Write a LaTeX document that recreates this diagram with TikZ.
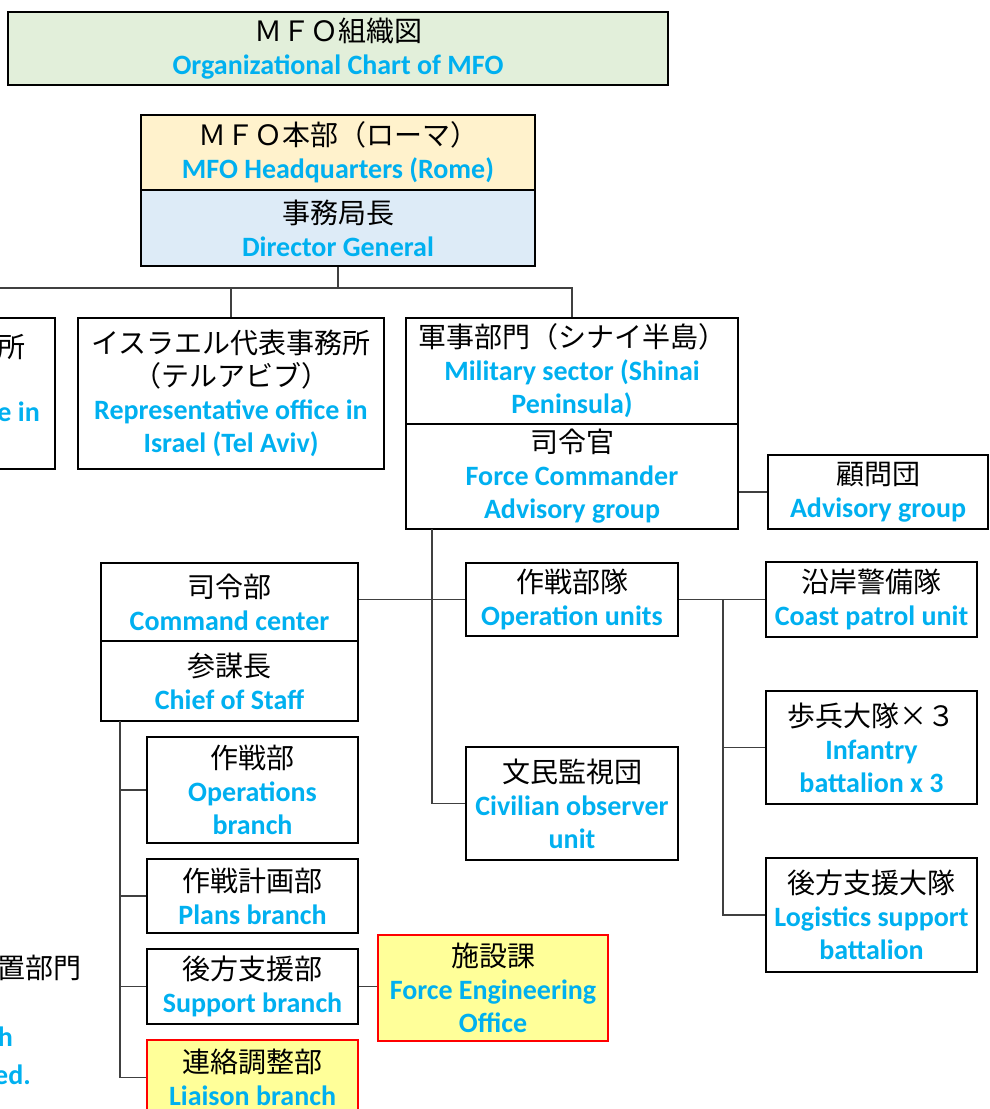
\documentclass[tikz,border=0pt]{standalone}
\usepackage{fontspec}
\setmainfont{Carlito}
\newfontfamily\jpfont{Noto Sans CJK JP}
\usepackage{xcolor}
\usepackage{tikz}

\definecolor{enblue}{HTML}{00B0F0}
\definecolor{titlegreen}{HTML}{E2EFDA}
\definecolor{hqcream}{HTML}{FFF2CC}
\definecolor{dgblue}{HTML}{DDEBF7}
\definecolor{hiyellow}{HTML}{FFFF99}
\definecolor{linegray}{HTML}{404040}

\newcommand{\jp}[1]{{\jpfont\fontsize{28}{33}\selectfont #1}}
\newcommand{\en}[1]{{\color{enblue}\bfseries\fontsize{28}{33}\selectfont #1}}

\tikzset{
    unitbox/.style={draw=black, line width=2.2pt, fill=white, align=center, inner sep=0pt,
        font=\fontsize{28}{33}\selectfont},
    hilitebox/.style={unitbox, draw=red, fill=hiyellow},
    fragment/.style={anchor=east, inner sep=0pt, font=\fontsize{28}{33}\selectfont},
    conn/.style={draw=linegray, line width=1.3pt},
}

\begin{document}
\begin{tikzpicture}[x=1pt, y=-1pt]
    \useasboundingbox (0,0) rectangle (990,1109);
    \clip (0,0) rectangle (990,1109);

    % Title and headquarters
    \node[unitbox, fill=titlegreen, minimum width=660, minimum height=73] (title) at (338,48.5)
        {\jp{ＭＦＯ組織図}\\\en{Organizational Chart of MFO}};
    \node[unitbox, fill=hqcream, minimum width=394, minimum height=75] (hq) at (338,152.5)
        {\jp{ＭＦＯ本部（ローマ）}\\\en{MFO Headquarters (Rome)}};
    \node[unitbox, fill=dgblue, minimum width=394, minimum height=76] (dg) at (338,228)
        {\jp{事務局長}\\\en{Director General}};

    % Offices below the director general
    \node[unitbox, minimum width=306, minimum height=151] (leftoffice) at (-98,393.5) {};
    \node[fragment] (leftjp) at (26,347) {\jp{所}};
    \node[fragment] (leften) at (40,412) {\en{e in}};
    \node[unitbox, minimum width=306, minimum height=151] (israel) at (231,393.5)
        {\jp{イスラエル代表事務所}\\\jp{（テルアビブ）}\\\en{Representative office in}\\\en{Israel (Tel Aviv)}};
    \node[unitbox, minimum width=332, minimum height=106] (milsec) at (572,371)
        {\jp{軍事部門（シナイ半島）}\\\en{Military sector (Shinai}\\\en{Peninsula)}};
    \node[unitbox, minimum width=332, minimum height=105] (fc) at (572,476.5)
        {\jp{司令官}\\\en{Force Commander}\\\en{Advisory group}};
    \node[unitbox, minimum width=220, minimum height=74] (advisory) at (878,492)
        {\jp{顧問団}\\\en{Advisory group}};

    % Command center and units
    \node[unitbox, minimum width=257, minimum height=78] (cmdctr) at (229.5,602)
        {\jp{司令部}\\\en{Command center}};
    \node[unitbox, minimum width=257, minimum height=80] (cos) at (229.5,681)
        {\jp{参謀長}\\\en{Chief of Staff}};
    \node[unitbox, minimum width=212, minimum height=73] (opsunits) at (572,599.5)
        {\jp{作戦部隊}\\\en{Operation units}};
    \node[unitbox, minimum width=212, minimum height=113] (civobs) at (572,803.5)
        {\jp{文民監視団}\\\en{Civilian observer}\\\en{unit}};
    \node[unitbox, minimum width=211, minimum height=75] (coast) at (871.5,599.5)
        {\jp{沿岸警備隊}\\\en{Coast patrol unit}};
    \node[unitbox, minimum width=211, minimum height=113] (infantry) at (871.5,747.5)
        {\jp{歩兵大隊×３}\\\en{Infantry}\\\en{battalion x 3}};
    \node[unitbox, minimum width=211, minimum height=114] (logistics) at (871.5,915)
        {\jp{後方支援大隊}\\\en{Logistics support}\\\en{battalion}};

    % Staff branches
    \node[unitbox, minimum width=211, minimum height=106] (opsbr) at (252.5,790)
        {\jp{作戦部}\\\en{Operations}\\\en{branch}};
    \node[unitbox, minimum width=211, minimum height=74] (plansbr) at (252.5,896)
        {\jp{作戦計画部}\\\en{Plans branch}};
    \node[unitbox, minimum width=211, minimum height=75] (supportbr) at (252.5,986.5)
        {\jp{後方支援部}\\\en{Support branch}};
    \node[hilitebox, minimum width=211, minimum height=75] (liaisonbr) at (252.5,1077.5)
        {\jp{連絡調整部}\\\en{Liaison branch}};
    \node[hilitebox, minimum width=230, minimum height=106] (engoffice) at (493,988)
        {\jp{施設課}\\\en{Force Engineering}\\\en{Office}};

    % Cut-off text at the lower left
    \node[fragment] (leftsectjp) at (82,968) {\jp{置部門}};
    \node[fragment] (leftsecten1) at (13,1037) {\en{h}};
    \node[fragment] (leftsecten2) at (31,1075) {\en{ed.}};

    % Connectors
    \coordinate (bus) at (0,288);
    \draw[conn] (dg.south) -- (dg.south |- bus);
    \draw[conn] (bus) -| (milsec.north);
    \draw[conn] (israel.north) -- (israel.north |- bus);
    \draw[conn] (advisory.west) -- (advisory.west -| fc.east);
    \coordinate (fcspine) at (432,529);
    \draw[conn] (fcspine) |- (civobs.west);
    \draw[conn] (opsunits.west) -- (opsunits.west -| cmdctr.east);
    \coordinate (opsfork) at (723,599.5);
    \draw[conn] (opsunits.east) -- (coast.west);
    \draw[conn] (opsfork) |- (logistics.west);
    \draw[conn] (opsfork |- infantry.west) -- (infantry.west);
    \coordinate (cosspine) at (120,721);
    \draw[conn] (cosspine) |- (liaisonbr.west);
    \foreach \br in {opsbr, plansbr, supportbr} {
        \draw[conn] (cosspine |- \br.west) -- (\br.west);
    }
    \draw[conn] (supportbr.east) -- (engoffice.west |- supportbr.east);

\end{tikzpicture}
\end{document}
